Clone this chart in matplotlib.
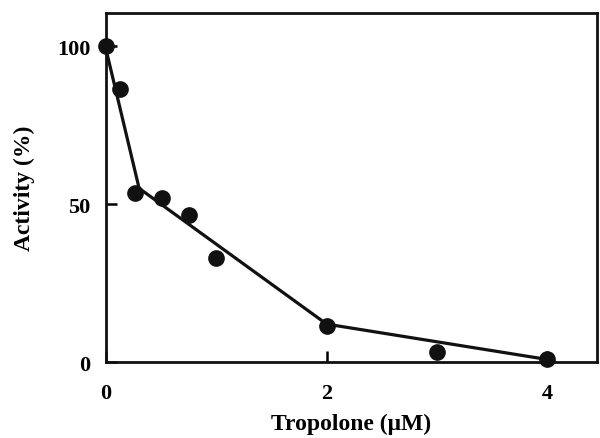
import matplotlib
matplotlib.use("Agg")
import matplotlib.pyplot as plt

# Data
conc_points = [0, 0.13, 0.26, 0.51, 0.75, 1.0, 2.0, 3.0, 4.0]
activity_points = [100, 86.5, 53.5, 52, 46.5, 33, 11.5, 3.3, 0.8]

conc_line = [0, 0.3, 2.0, 4.0]
activity_line = [99, 55, 12, 0.8]

x_ticks = [0, 2, 4]
y_ticks = [0, 50, 100]

plt.rcParams['font.family'] = ['Liberation Serif', 'DejaVu Serif']

fig = plt.figure(figsize=(6, 4.39), dpi=100)
ax = fig.add_axes([0.1767, 0.1731, 0.8183, 0.7949])

ax.plot(conc_line, activity_line, color='#111111', lw=2.3, zorder=2)
ax.plot(conc_points, activity_points, 'o', color='#111111', ms=11, zorder=3, clip_on=False)

ax.set_xlim(0, 4.45)
ax.set_ylim(0, 110.5)
ax.set_xticks(x_ticks)
ax.set_yticks(y_ticks)
ax.tick_params(direction='in', length=8, width=1.8, labelsize=16)
ax.tick_params(axis='x', pad=15)
ax.tick_params(axis='y', pad=11)
for lab in ax.get_xticklabels() + ax.get_yticklabels():
    lab.set_fontweight('bold')

for s in ax.spines.values():
    s.set_linewidth(2)
    s.set_color('#111111')

ax.set_xlabel('Tropolone (μM)', fontsize=17, fontweight='bold', labelpad=7)
ax.set_ylabel('Activity (%)', fontsize=17, fontweight='bold', labelpad=16)

fig.savefig('out.png', dpi=100)
